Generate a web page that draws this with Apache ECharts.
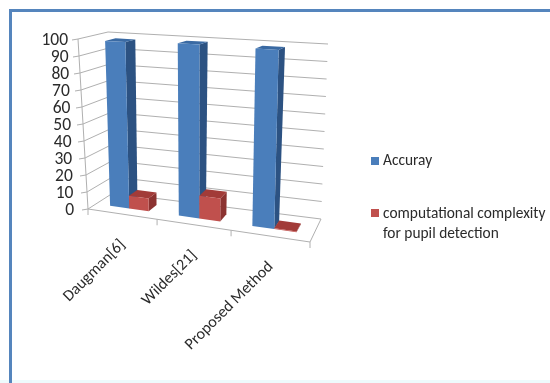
<!DOCTYPE html>
<html>
<head>
<meta charset="utf-8">
<style>
html,body{margin:0;padding:0;background:#fff;}
#chart{width:550px;height:383px;}
</style>
<script src="https://cdn.jsdelivr.net/npm/echarts@6/dist/echarts.min.js"></script>
</head>
<body>
<div id="chart"></div>
<script>
var categories = ['Daugman[6]', 'Wildes[21]', 'Proposed Method'];
var accuracy = [98, 99, 98.5];
var complexity = [7.5, 13, 0.4];
var yTicks = [0, 10, 20, 30, 40, 50, 60, 70, 80, 90, 100];
var seriesNames = ['Accuray', 'computational complexity\nfor pupil detection'];

// corners of the drawn box, [x, y] on the page: f = front, b = back, 0 = floor, 1 = top
var box = {
    f0l: [88, 209], f0r: [310, 242], b0l: [113, 193], b0r: [321, 219],
    f1l: [78, 39], f1r: [313, 52], b1l: [108, 32], b1r: [328, 44]
};
var fontName = 'Carlito, Lato, sans-serif';

function mix(a, b, t) {
    return [a[0] + (b[0] - a[0]) * t, a[1] + (b[1] - a[1]) * t];
}
// u along categories, d into the depth, v up the value axis, all 0..1
function project(u, d, v) {
    var w = 0.9 * u + 0.1 * u * u;
    var floor = mix(mix(box.f0l, box.f0r, w), mix(box.b0l, box.b0r, w), d);
    var top = mix(mix(box.f1l, box.f1r, w), mix(box.b1l, box.b1r, w), d);
    return mix(floor, top, v);
}
// bars lean a little to the right as they go up
function barPoint(u, d, v) {
    var p = project(u, d, v);
    return [p[0] + 2.5 * v, p[1]];
}
// flat grid pixel -> box position
function toBox(params, pt) {
    var cs = params.coordSys;
    return {u: (pt[0] - cs.x) / cs.width, v: (cs.y + cs.height - pt[1]) / cs.height};
}
function face(points, color) {
    return {type: 'polygon', shape: {points: points}, style: {fill: color}};
}
function line(a, b) {
    return {type: 'line', shape: {x1: a[0], y1: a[1], x2: b[0], y2: b[1]},
        style: {stroke: '#b0b0b0', lineWidth: 1}};
}

function barRender(slot, colors) {
    return function (params, api) {
        var c = api.coord([api.value(0), api.value(1)]);
        var band = api.size([1, 0])[0];
        var barW = band / 3.5;
        var left = c[0] + (slot - 1) * barW;
        var p = toBox(params, [left, c[1]]);
        var u0 = p.u;
        var u1 = p.u + barW / params.coordSys.width;
        var v = p.v;
        var d0 = 0.32, d1 = 0.68;
        return {type: 'group', children: [
            face([barPoint(u1, d0, 0), barPoint(u1, d1, 0), barPoint(u1, d1, v), barPoint(u1, d0, v)], colors[1]),
            face([barPoint(u0, d0, v), barPoint(u1, d0, v), barPoint(u1, d1, v), barPoint(u0, d1, v)], colors[2]),
            face([barPoint(u0, d0, 0), barPoint(u1, d0, 0), barPoint(u1, d0, v), barPoint(u0, d0, v)], colors[0])
        ]};
    };
}

function wallRender(params, api) {
    var c = api.coord([0, api.value(0)]);
    var v = toBox(params, c).v;
    var at = project(0, 0, v);
    return {type: 'group', children: [
        line(at, project(0, 1, v)),
        line(project(0, 1, v), project(1, 1, v)),
        line(at, [at[0] - 6, at[1] + 1]),
        {type: 'text', style: {x: at[0] - 10 - 4 * (1 - v), y: at[1] + 2, text: String(api.value(0)),
            align: 'right', verticalAlign: 'middle', font: '17.5px ' + fontName, fill: '#2b2b2b'}}
    ]};
}

function floorRender(params, api) {
    var kids = [
        line(project(0, 0, 0), project(1, 0, 0)),
        line(project(1, 0, 0), project(1, 1, 0)),
        line(project(0, 0, 1), project(0, 0, 0))
    ];
    [0, 1 / 3, 2 / 3, 1].forEach(function (u) {
        var a = project(u, 0, 0);
        kids.push(line(a, [a[0], a[1] + 6]));
    });
    return {type: 'group', children: kids};
}

function labelRender(params, api) {
    var c = api.coord([api.value(0), 0]);
    var at = project(toBox(params, c).u, 0, 0);
    return {type: 'text', x: at[0] + 1, y: at[1] + 28.5, rotation: Math.PI / 4,
        style: {x: 0, y: 0, text: categories[api.value(0)], align: 'right', verticalAlign: 'middle',
            font: '16px ' + fontName, fill: '#2b2b2b'}};
}

var legendFont = '15.4px ' + fontName;
var chart = echarts.init(document.getElementById('chart'), null, {renderer: 'canvas'});
chart.setOption({
    animation: false,
    backgroundColor: '#fff',
    graphic: [
        {type: 'rect', shape: {x: 0, y: 380, width: 550, height: 3}, style: {fill: '#eefafc'}, z: -1},
        {type: 'rect', shape: {x: 9, y: 9, width: 541, height: 3}, style: {fill: '#5585bd'}, z: -1},
        {type: 'rect', shape: {x: 9, y: 9, width: 3, height: 374}, style: {fill: '#5585bd'}, z: -1},
        {type: 'rect', shape: {x: 371, y: 157, width: 8, height: 8}, style: {fill: '#4a7ebb'}},
        {type: 'rect', shape: {x: 371, y: 209, width: 8, height: 8}, style: {fill: '#c0504d'}},
        {type: 'text', style: {x: 383, y: 161, text: seriesNames[0], font: legendFont, fill: '#2b2b2b', verticalAlign: 'middle'}},
        {type: 'text', style: {x: 383, y: 214, text: seriesNames[1].split('\n')[0], font: legendFont, fill: '#2b2b2b', verticalAlign: 'middle'}},
        {type: 'text', style: {x: 383, y: 234, text: seriesNames[1].split('\n')[1], font: legendFont, fill: '#2b2b2b', verticalAlign: 'middle'}}
    ],
    // the flat plot the box is warped from; only its scales are used
    grid: {left: 100, right: 100, top: 40, bottom: 100},
    xAxis: {type: 'category', data: categories, show: false},
    yAxis: {type: 'value', min: 0, max: 100, interval: 10, show: false},
    series: [
        {type: 'custom', renderItem: wallRender, data: yTicks.map(function (t) { return [t]; }), encode: {y: 0}, silent: true, z: 1},
        {type: 'custom', renderItem: floorRender, data: [[0]], encode: {y: 0}, silent: true, z: 1},
        {type: 'custom', renderItem: labelRender, data: categories.map(function (n, i) { return [i]; }), encode: {x: 0}, silent: true, z: 1},
        {name: seriesNames[0], type: 'custom', renderItem: barRender(0, ['#4a7ebb', '#2c5282', '#3a6aa3']),
            data: accuracy.map(function (n, i) { return [i, n]; }), encode: {x: 0, y: 1}, z: 2},
        {name: seriesNames[1], type: 'custom', renderItem: barRender(1, ['#c0504d', '#8c3331', '#a23b38']),
            data: complexity.map(function (n, i) { return [i, n]; }), encode: {x: 0, y: 1}, z: 3}
    ]
});
</script>
</body>
</html>
